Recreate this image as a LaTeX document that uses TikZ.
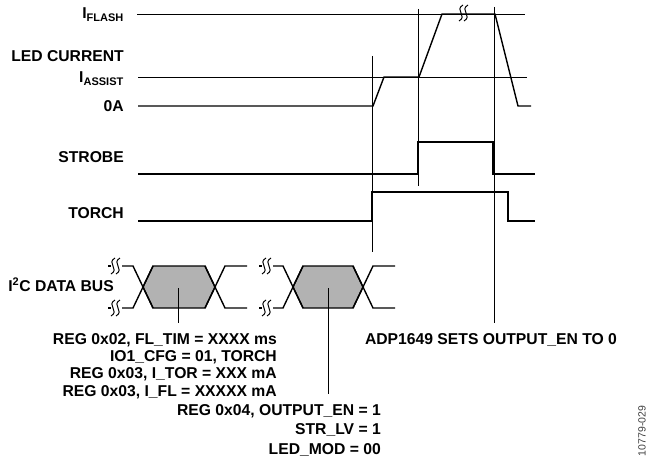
\documentclass[tikz,border=0pt]{standalone}
\usepackage{fontspec}
\setmainfont{Liberation Sans}
\usetikzlibrary{positioning,calc}

\begin{document}
\begin{tikzpicture}[
  x=1pt, y=-1pt,
  lbl/.style={font=\fontsize{15.7}{17.3}\selectfont\bfseries, inner sep=0pt},
  wave/.style={line width=1.4pt, line join=miter},
  grid/.style={line width=0.6pt},
  word/.style={wave, fill=black!30},
  brk/.pic={
    \draw[line width=1pt] (2,-8) .. controls (-7,-3) and (7,3) .. (-2,8);
    \draw[line width=1pt] (7,-8) .. controls (-2,-3) and (12,3) .. (3,8);
  }
]
\useasboundingbox (0,0) rectangle (648,460);

% signal names
\node[lbl, anchor=base east] (iflash)  at (124,19)  {I\textsubscript{FLASH}};
\node[lbl, anchor=base east] (ledcur)  at (124,62)  {LED CURRENT};
\node[lbl, anchor=base east] (iassist) at (124,83)  {I\textsubscript{ASSIST}};
\node[lbl, anchor=base east] (zero)    at (124,111) {0A};
\node[lbl, anchor=base east] (strobe)  at (124,162) {STROBE};
\node[lbl, anchor=base east] (torch)   at (124,218) {TORCH};
\node[lbl, anchor=base east] (bus)     at (114,291) {I\textsuperscript{2}C DATA BUS};

% level lines
\draw[grid] (137,14) -- (525,14);
\draw[grid] (138,77) -- (527,77);

% event markers
\coordinate (t1) at (372,56);
\coordinate (t2) at (418,9);
\coordinate (t3) at (494,7);
\draw[grid] (t1) -- (372,252);
\draw[grid] (t2) -- (418,186);
\draw[grid] (t3) -- (494,323);

% LED current
\draw[wave] (138,106) -- (373,106) -- (384,77) -- (419,77) -- (442,14)
            -- (495,14) -- (518,106) -- (531,106);
\pic at (461,13) {brk};

% STROBE and TORCH
\draw[wave] (138,174) -- (418,174) -- (418,142) -- (493,142) -- (493,174) -- (535,174);
\draw[wave] (138,221) -- (372,221) -- (372,192) -- (508,192) -- (508,221) -- (535,221);

% I2C words
\draw[word] (143,287) -- (153,266) -- (205,266) -- (215,287) -- (205,308) -- (153,308) -- cycle;
\draw[wave] (122,266) -- (133,266) -- (153,308);
\draw[wave] (122,308) -- (133,308) -- (153,266);
\draw[wave] (205,266) -- (225,308) -- (247,308);
\draw[wave] (205,308) -- (225,266) -- (247,266);
\draw[wave] (108,266) -- (111,266);
\draw[wave] (108,308) -- (111,308);
\pic at (113,266) {brk};
\pic at (113,308) {brk};

\draw[word] (293,287) -- (303,266) -- (353,266) -- (363,287) -- (353,308) -- (303,308) -- cycle;
\draw[wave] (273,266) -- (283,266) -- (303,308);
\draw[wave] (273,308) -- (283,308) -- (303,266);
\draw[wave] (353,266) -- (373,308) -- (395,308);
\draw[wave] (353,308) -- (373,266) -- (395,266);
\draw[wave] (259,266) -- (262,266);
\draw[wave] (259,308) -- (262,308);
\pic at (264,266) {brk};
\pic at (264,308) {brk};

% register notes
\node[lbl, anchor=north east, align=right] (setup) at (277,333)
  {REG 0x02, FL\_TIM = XXXX ms\\ IO1\_CFG = 01, TORCH\\ REG 0x03, I\_TOR = XXX mA\\ REG 0x03, I\_FL = XXXXX mA};
\node[lbl, anchor=north east, align=right,
      font=\fontsize{15.7}{19.5}\selectfont\bfseries] (enable) at (381,404)
  {REG 0x04, OUTPUT\_EN = 1\\ STR\_LV = 1\\ LED\_MOD = 00};
\node[lbl] (autooff) at (491,340) {ADP1649 SETS OUTPUT\_EN TO 0};

\draw[grid] (178,288) -- ($(setup.north -| 178,0) + (0,-10)$);
\draw[grid] (328,288) -- ($(enable.north -| 328,0) + (0,-10)$);

\node[rotate=90, inner sep=0pt, text=black!75,
      font=\fontsize{10.5}{12}\selectfont] (figid) at (642,431) {10779-029};

\end{tikzpicture}
\end{document}
